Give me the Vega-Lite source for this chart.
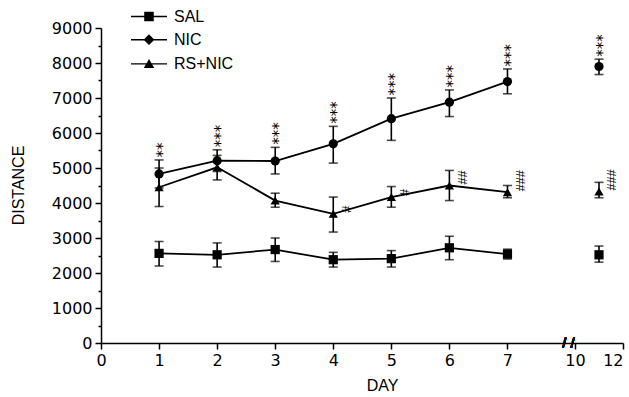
{
  "$schema": "https://vega.github.io/schema/vega-lite/v6.json",
  "width": 522,
  "height": 315,
  "autosize": {"type": "none"},
  "padding": {"left": 101, "top": 28, "right": 6, "bottom": 54},
  "background": "white",
  "config": {
    "view": {"stroke": null},
    "font": "Liberation Sans",
    "axis": {
      "domainColor": "black", "domainWidth": 1.5, "tickColor": "black", "tickWidth": 1.5,
      "labelColor": "black", "labelFont": "DejaVu Sans", "labelFontSize": 16,
      "titleColor": "black", "titleFont": "Liberation Sans", "titleFontSize": 16, "titleFontWeight": "normal",
      "grid": false, "labelOverlap": false, "labelFlush": false
    }
  },
  "data": {
    "values": [
      {"group": "SAL", "day": 1, "mean": 2560, "lo": 2200, "hi": 2900},
      {"group": "SAL", "day": 2, "mean": 2520, "lo": 2170, "hi": 2860},
      {"group": "SAL", "day": 3, "mean": 2670, "lo": 2330, "hi": 3000},
      {"group": "SAL", "day": 4, "mean": 2380, "lo": 2170, "hi": 2590},
      {"group": "SAL", "day": 5, "mean": 2410, "lo": 2170, "hi": 2640},
      {"group": "SAL", "day": 6, "mean": 2720, "lo": 2380, "hi": 3050},
      {"group": "SAL", "day": 7, "mean": 2540, "lo": 2400, "hi": 2680},
      {"group": "SAL", "day": 11, "mean": 2520, "lo": 2310, "hi": 2770},
      {"group": "NIC", "day": 1, "mean": 4830, "lo": 4430, "hi": 5230, "sig": "**"},
      {"group": "NIC", "day": 2, "mean": 5210, "lo": 4900, "hi": 5520, "sig": "***"},
      {"group": "NIC", "day": 3, "mean": 5200, "lo": 4830, "hi": 5590, "sig": "***"},
      {"group": "NIC", "day": 4, "mean": 5690, "lo": 5140, "hi": 6190, "sig": "***"},
      {"group": "NIC", "day": 5, "mean": 6410, "lo": 5790, "hi": 7000, "sig": "***"},
      {"group": "NIC", "day": 6, "mean": 6880, "lo": 6470, "hi": 7230, "sig": "***"},
      {"group": "NIC", "day": 7, "mean": 7470, "lo": 7120, "hi": 7830, "sig": "***"},
      {"group": "NIC", "day": 11, "mean": 7900, "lo": 7670, "hi": 8110, "sig": "***"},
      {"group": "RS+NIC", "day": 1, "mean": 4450, "lo": 3900, "hi": 5000},
      {"group": "RS+NIC", "day": 2, "mean": 5020, "lo": 4660, "hi": 5360},
      {"group": "RS+NIC", "day": 3, "mean": 4070, "lo": 3880, "hi": 4280},
      {"group": "RS+NIC", "day": 4, "mean": 3690, "lo": 3170, "hi": 4170, "sig": "#"},
      {"group": "RS+NIC", "day": 5, "mean": 4170, "lo": 3880, "hi": 4470, "sig": "#"},
      {"group": "RS+NIC", "day": 6, "mean": 4500, "lo": 4070, "hi": 4930, "sig": "##"},
      {"group": "RS+NIC", "day": 7, "mean": 4310, "lo": 4150, "hi": 4500, "sig": "###"},
      {"group": "RS+NIC", "day": 11, "mean": 4330, "lo": 4150, "hi": 4590, "sig": "###"}
    ]
  },
  "encoding": {
    "x": {
      "field": "day", "type": "quantitative",
      "scale": {"domain": [0, 7.5, 10, 12], "range": [0, 435.5, 474, 522], "nice": false, "zero": false},
      "axis": {
        "title": "DAY", "titleX": 281, "titleY": 42, "titleBaseline": "middle", "titleAlign": "center",
        "values": [0, 0.5, 1, 1.5, 2, 2.5, 3, 3.5, 4, 4.5, 5, 5.5, 6, 6.5, 7, 7.5, 10, 11, 12],
        "labelExpr": "(datum.value % 1 === 0 && datum.value !== 11) ? datum.label : ''",
        "format": "d",
        "labelAlign": {"condition": {"test": "datum.value === 12", "value": "right"}, "value": "center"},
        "tickSize": {"condition": {"test": "datum.value % 1 !== 0", "value": 3}, "value": 6},
        "labelPadding": 3
      }
    }
  },
  "layer": [
    {
      "transform": [{"filter": "datum.day <= 7"}],
      "mark": {"type": "line", "color": "black", "strokeWidth": 1.8},
      "encoding": {
        "y": {
          "field": "mean", "type": "quantitative",
          "scale": {"domain": [0, 9000], "nice": false},
          "axis": {
            "title": "DISTANCE", "titleAngle": -90, "titleX": -83, "titleY": 157, "titleAlign": "center", "titleBaseline": "middle",
            "values": [0, 500, 1000, 1500, 2000, 2500, 3000, 3500, 4000, 4500, 5000, 5500, 6000, 6500, 7000, 7500, 8000, 8500, 9000],
            "format": "d", "labelExpr": "datum.value % 1000 === 0 ? datum.label : ''",
            "tickSize": {"condition": {"test": "datum.value % 1000 !== 0", "value": 3}, "value": 6},
            "labelPadding": 3
          }
        },
        "detail": {"field": "group"}
      }
    },
    {
      "mark": {"type": "rule", "color": "black", "strokeWidth": 1.6},
      "encoding": {
        "y": {
          "field": "lo", "type": "quantitative",
          "axis": {
            "title": "DISTANCE", "titleAngle": -90, "titleX": -83, "titleY": 157, "titleAlign": "center", "titleBaseline": "middle",
            "values": [0, 500, 1000, 1500, 2000, 2500, 3000, 3500, 4000, 4500, 5000, 5500, 6000, 6500, 7000, 7500, 8000, 8500, 9000],
            "format": "d", "labelExpr": "datum.value % 1000 === 0 ? datum.label : ''",
            "tickSize": {"condition": {"test": "datum.value % 1000 !== 0", "value": 3}, "value": 6},
            "labelPadding": 3
          }
        },
        "y2": {"field": "hi"}
      }
    },
    {
      "mark": {"type": "tick", "orient": "horizontal", "color": "black", "size": 9, "thickness": 1.6},
      "encoding": {
        "y": {
          "field": "lo", "type": "quantitative",
          "axis": {
            "title": "DISTANCE", "titleAngle": -90, "titleX": -83, "titleY": 157, "titleAlign": "center", "titleBaseline": "middle",
            "values": [0, 500, 1000, 1500, 2000, 2500, 3000, 3500, 4000, 4500, 5000, 5500, 6000, 6500, 7000, 7500, 8000, 8500, 9000],
            "format": "d", "labelExpr": "datum.value % 1000 === 0 ? datum.label : ''",
            "tickSize": {"condition": {"test": "datum.value % 1000 !== 0", "value": 3}, "value": 6},
            "labelPadding": 3
          }
        }
      }
    },
    {
      "mark": {"type": "tick", "orient": "horizontal", "color": "black", "size": 9, "thickness": 1.6},
      "encoding": {
        "y": {
          "field": "hi", "type": "quantitative",
          "axis": {
            "title": "DISTANCE", "titleAngle": -90, "titleX": -83, "titleY": 157, "titleAlign": "center", "titleBaseline": "middle",
            "values": [0, 500, 1000, 1500, 2000, 2500, 3000, 3500, 4000, 4500, 5000, 5500, 6000, 6500, 7000, 7500, 8000, 8500, 9000],
            "format": "d", "labelExpr": "datum.value % 1000 === 0 ? datum.label : ''",
            "tickSize": {"condition": {"test": "datum.value % 1000 !== 0", "value": 3}, "value": 6},
            "labelPadding": 3
          }
        }
      }
    },
    {
      "mark": {"type": "point", "filled": true, "color": "black", "opacity": 1, "size": 85},
      "encoding": {
        "y": {
          "field": "mean", "type": "quantitative",
          "axis": {
            "title": "DISTANCE", "titleAngle": -90, "titleX": -83, "titleY": 157, "titleAlign": "center", "titleBaseline": "middle",
            "values": [0, 500, 1000, 1500, 2000, 2500, 3000, 3500, 4000, 4500, 5000, 5500, 6000, 6500, 7000, 7500, 8000, 8500, 9000],
            "format": "d", "labelExpr": "datum.value % 1000 === 0 ? datum.label : ''",
            "tickSize": {"condition": {"test": "datum.value % 1000 !== 0", "value": 3}, "value": 6},
            "labelPadding": 3
          }
        },
        "shape": {
          "field": "group", "type": "nominal",
          "scale": {"domain": ["SAL", "NIC", "RS+NIC"], "range": ["square", "circle", "triangle-up"]},
          "legend": null
        }
      }
    },
    {
      "transform": [{"filter": "datum.group === 'NIC'"}],
      "mark": {"type": "text", "color": "black", "font": "DejaVu Sans", "fontSize": 15, "angle": 270, "align": "left", "baseline": "alphabetic", "dx": 2.5, "dy": 8.5},
      "encoding": {
        "y": {
          "field": "hi", "type": "quantitative",
          "axis": {
            "title": "DISTANCE", "titleAngle": -90, "titleX": -83, "titleY": 157, "titleAlign": "center", "titleBaseline": "middle",
            "values": [0, 500, 1000, 1500, 2000, 2500, 3000, 3500, 4000, 4500, 5000, 5500, 6000, 6500, 7000, 7500, 8000, 8500, 9000],
            "format": "d", "labelExpr": "datum.value % 1000 === 0 ? datum.label : ''",
            "tickSize": {"condition": {"test": "datum.value % 1000 !== 0", "value": 3}, "value": 6},
            "labelPadding": 3
          }
        },
        "text": {"field": "sig"}
      }
    },
    {
      "transform": [{"filter": "datum.group === 'RS+NIC' && datum.sig != null"}],
      "mark": {"type": "text", "color": "black", "font": "Liberation Sans", "fontSize": 12.5, "angle": 270, "align": "left", "baseline": "alphabetic", "dx": 1, "dy": 17.3},
      "encoding": {
        "y": {
          "field": "mean", "type": "quantitative",
          "axis": {
            "title": "DISTANCE", "titleAngle": -90, "titleX": -83, "titleY": 157, "titleAlign": "center", "titleBaseline": "middle",
            "values": [0, 500, 1000, 1500, 2000, 2500, 3000, 3500, 4000, 4500, 5000, 5500, 6000, 6500, 7000, 7500, 8000, 8500, 9000],
            "format": "d", "labelExpr": "datum.value % 1000 === 0 ? datum.label : ''",
            "tickSize": {"condition": {"test": "datum.value % 1000 !== 0", "value": 3}, "value": 6},
            "labelPadding": 3
          }
        },
        "text": {"field": "sig"}
      }
    },
    {
      "transform": [{"filter": "false"}],
      "mark": {"type": "point", "filled": true, "color": "black", "opacity": 1},
      "encoding": {
        "y": {
          "field": "mean", "type": "quantitative",
          "axis": {
            "title": "DISTANCE", "titleAngle": -90, "titleX": -83, "titleY": 157, "titleAlign": "center", "titleBaseline": "middle",
            "values": [0, 500, 1000, 1500, 2000, 2500, 3000, 3500, 4000, 4500, 5000, 5500, 6000, 6500, 7000, 7500, 8000, 8500, 9000],
            "format": "d", "labelExpr": "datum.value % 1000 === 0 ? datum.label : ''",
            "tickSize": {"condition": {"test": "datum.value % 1000 !== 0", "value": 3}, "value": 6},
            "labelPadding": 3
          }
        },
        "shape": {
          "field": "group", "type": "nominal",
          "scale": {
            "domain": ["SAL", "NIC", "RS+NIC"],
            "range": [
              "M-2,-0.09H2V0.09H-2ZM-0.53,-0.53H0.53V0.53H-0.53Z",
              "M-2,-0.09H2V0.09H-2ZM0,-0.6L0.6,0L0,0.6L-0.6,0Z",
              "M-2,-0.08H2V0.08H-2ZM0,-0.55L0.58,0.45H-0.58Z"
            ]
          },
          "legend": {
            "title": null, "orient": "none", "legendX": 38, "legendY": -21.5,
            "symbolSize": 324, "symbolFillColor": "black", "symbolOpacity": 1,
            "labelFontSize": 16, "labelColor": "black", "labelFont": "Liberation Sans",
            "labelOffset": 15, "rowPadding": 5.2, "padding": 0
          }
        }
      }
    },
    {
      "mark": {"type": "text", "text": "/ /", "fontSize": 15, "color": "black", "align": "center", "baseline": "middle"},
      "encoding": {
        "x": {"datum": 9.58},
        "y": {
          "datum": 0, "type": "quantitative",
          "axis": {
            "title": "DISTANCE", "titleAngle": -90, "titleX": -83, "titleY": 157, "titleAlign": "center", "titleBaseline": "middle",
            "values": [0, 500, 1000, 1500, 2000, 2500, 3000, 3500, 4000, 4500, 5000, 5500, 6000, 6500, 7000, 7500, 8000, 8500, 9000],
            "format": "d", "labelExpr": "datum.value % 1000 === 0 ? datum.label : ''",
            "tickSize": {"condition": {"test": "datum.value % 1000 !== 0", "value": 3}, "value": 6},
            "labelPadding": 3
          }
        }
      }
    }
  ],
  "resolve": {"scale": {"shape": "independent"}}
}
